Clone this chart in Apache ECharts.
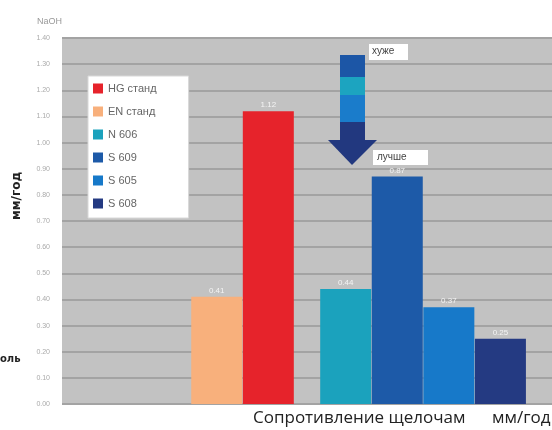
<!DOCTYPE html>
<html>
<head>
<meta charset="utf-8">
<script src="https://cdn.jsdelivr.net/npm/echarts@6/dist/echarts.min.js"></script>
<style>html,body{margin:0;padding:0;background:#fff;}#c{width:552px;height:430px;}</style>
</head>
<body>
<div id="c"></div>
<script>
// category slots along the x axis (empty strings are spacing slots)
var categories = ['', '', '', '', '', '', 'EN станд', '', 'HG станд', '', '', 'N 606', '', 'S 609', '', 'S 605', '', 'S 608', '', ''];
var seriesNames = ['HG станд', 'EN станд', 'N 606', 'S 609', 'S 605', 'S 608'];
var seriesValues = [1.12, 0.41, 0.44, 0.87, 0.37, 0.25];
var seriesColors = ['#e6232b', '#f8b07c', '#1ba2bd', '#1d5aa8', '#1779c9', '#243a82'];

var chart = echarts.init(document.getElementById('c'));
var series = seriesNames.map(function (name, i) {
  return {
    name: name,
    type: 'bar',
    barWidth: 51,
    barGap: '-100%',
    itemStyle: { color: seriesColors[i] },
    label: {
      show: true, position: 'top', distance: 2,
      color: '#f4f4f4', fontSize: 8, fontFamily: 'Liberation Sans',
      formatter: function (p) { return p.value.toFixed(2); }
    },
    data: categories.map(function (c) { return c === name ? seriesValues[i] : null; })
  };
});

chart.setOption({
  animation: false,
  grid: { left: 62, right: 0, top: 38, bottom: 26, backgroundColor: '#c2c2c2', show: true, borderWidth: 0 },
  legend: {
    data: seriesNames,
    orient: 'vertical',
    left: 88, top: 76,
    backgroundColor: '#ffffff',
    borderColor: '#d8d8d8', borderWidth: 1,
    padding: [7, 32, 9, 5],
    itemGap: 12,
    itemWidth: 10, itemHeight: 10,
    icon: 'rect',
    textStyle: { color: '#666', fontSize: 11, fontFamily: 'Liberation Sans' },
    z: 20
  },
  xAxis: {
    type: 'category', data: categories, boundaryGap: false,
    axisLine: { show: false }, axisTick: { show: false }, axisLabel: { show: false }
  },
  yAxis: {
    type: 'value', min: 0, max: 1.4, interval: 0.1,
    name: 'NaOH', nameLocation: 'end', nameGap: 12,
    nameTextStyle: { color: '#999', fontSize: 9, align: 'left', padding: [0, 0, 0, -25] },
    axisLine: { show: false }, axisTick: { show: false },
    axisLabel: { color: '#aaa', fontSize: 7, margin: 12, formatter: function (v) { return v.toFixed(2); } },
    splitLine: { lineStyle: { color: '#a3a3a3', width: 2 } }
  },
  series: series,
  graphic: [
    { type: 'text', x: 11, y: 220, rotation: Math.PI / 2, z: 100, style: { text: 'мм/год', font: 'bold 12px "DejaVu Sans"', fill: '#222' } },
    { type: 'text', x: 0, y: 354, z: 100, style: { text: 'оль', font: 'bold 10px "DejaVu Sans"', fill: '#222' } },
    { type: 'text', x: 253, y: 410, z: 100, style: { text: 'Сопротивление щелочам', font: '17px "Open Sans"', fill: '#222' } },
    { type: 'text', x: 492, y: 410, z: 100, style: { text: 'мм/год', font: '17px "Open Sans"', fill: '#222' } },
    // arrow
    { type: 'rect', z: 100, shape: { x: 340, y: 55, width: 25, height: 23 }, style: { fill: '#1c56a6' } },
    { type: 'rect', z: 100, shape: { x: 340, y: 77, width: 25, height: 19 }, style: { fill: '#1ca4c0' } },
    { type: 'rect', z: 100, shape: { x: 340, y: 95, width: 25, height: 28 }, style: { fill: '#1a7ccb' } },
    { type: 'rect', z: 100, shape: { x: 340, y: 122, width: 25, height: 20 }, style: { fill: '#22387f' } },
    { type: 'polygon', z: 100, shape: { points: [[328, 140], [377, 140], [352, 165]] }, style: { fill: '#22387f' } },
    { type: 'rect', z: 100, shape: { x: 369, y: 44, width: 39, height: 16 }, style: { fill: '#ffffff' } },
    { type: 'text', z: 101, x: 372, y: 46, style: { text: 'хуже', font: '10px "Liberation Sans"', fill: '#444' } },
    { type: 'rect', z: 100, shape: { x: 373, y: 150, width: 55, height: 15 }, style: { fill: '#ffffff' } },
    { type: 'text', z: 101, x: 377, y: 152, style: { text: 'лучше', font: '10px "Liberation Sans"', fill: '#444' } }
  ]
});
</script>
</body>
</html>
